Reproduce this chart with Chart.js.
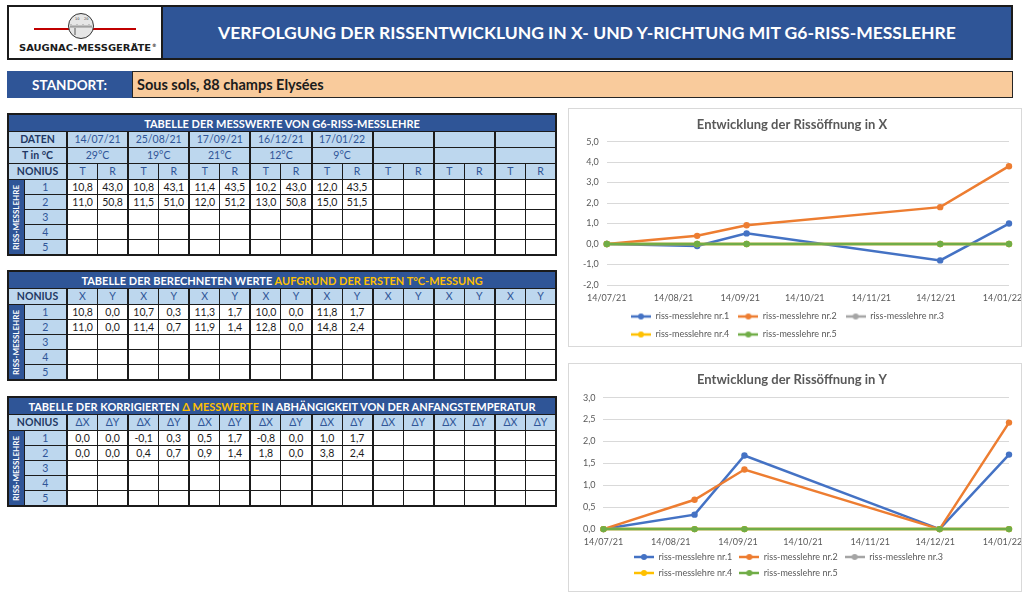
<!DOCTYPE html>
<html lang="de">
<head>
<meta charset="utf-8">
<title>Verfolgung der Rissentwicklung</title>
<script src="https://cdn.jsdelivr.net/npm/chart.js@4.4.1/dist/chart.umd.min.js"></script>
<style>
  body { margin: 0; background: #fff; font-family: Lato, 'Open Sans', sans-serif; }
  #page { position: relative; width: 1024px; height: 593px; overflow: hidden; }
  .box { position: absolute; box-sizing: border-box; }
  #logo { left: 7px; top: 5px; width: 156px; height: 55px; border: 2px solid #1b1b1b; background: #fff; }
  #head { left: 161px; top: 5px; width: 852px; height: 55px; border: 2px solid #1b1b1b; background: #2F5597;
          color: #fff; font-weight: bold; font-size: 17.5px; display: flex; align-items: center; justify-content: center; }
  #standLbl { left: 7px; top: 71px; width: 125px; height: 27px; background: #2F5597; color: #fff;
              font-weight: bold; font-size: 13.5px; display: flex; align-items: center; justify-content: center; }
  #standVal { left: 132px; top: 71px; width: 881px; height: 27px; background: #F9CB9C; border: 1.5px solid #262626;
              color: #1b1b1b; font-weight: bold; font-size: 14.5px; display: flex; align-items: center; padding-left: 4px; }
  table.grid { position: absolute; left: 7px; width: 550px; border-collapse: collapse; table-layout: fixed;
               border: 2px solid #1b1b1b; font-size: 10.5px; }
  table.grid td { border: 1px solid #1b1b1b; padding: 0; text-align: center; height: 14px; line-height: 13px;
                  overflow: hidden; white-space: nowrap; color: #1b1b1b; }
  table.grid td.g { border-left: 2px solid #1b1b1b; }
  table.grid tr.ttl td { background: #2F5597; color: #fff; font-weight: bold; font-size: 11px; height: 16px; }
  table.grid tr.hd td { background: #BDD7EE; color: #2F5597; height: 15px; }
  table.grid td.lbl { font-weight: bold; color: #1F3864 !important; }
  table.grid td.num { background: #BDD7EE; color: #2F5597; }
  table.grid td.vert { background: #2F5597; }
  td.vert div { writing-mode: vertical-rl; transform: rotate(180deg); color: #fff; font-weight: bold; font-size: 8px;
                margin: 0 auto; line-height: 14px; }
  .gold { color: #FFC000; }
  .chartBox { position: absolute; left: 568px; width: 454px; box-sizing: border-box; border: 1px solid #d9d9d9; background: #fff; }
</style>
</head>
<body>
<div id="page">
  <div id="logo" class="box">
    <svg width="152" height="51" viewBox="0 0 152 51">
      <line x1="25" y1="22" x2="127" y2="22" stroke="#c00000" stroke-width="2"/>
      <circle cx="72" cy="19" r="12.5" fill="#e6e6e6" stroke="#333" stroke-width="1"/>
      <line x1="61" y1="20" x2="83" y2="20" stroke="#555" stroke-width="0.6"/>
      <path d="M62 20v-3M64 20v-2M66 20v-2M68 20v-3M70 20v-2M72 20v-2M74 20v-3M76 20v-2M78 20v-2M80 20v-3M82 20v-2" stroke="#555" stroke-width="0.5"/>
      <text x="66" y="13" font-size="3.5" fill="#333" font-family="DejaVu Sans">10</text>
      <text x="75" y="13" font-size="3.5" fill="#333" font-family="DejaVu Sans">20</text>
      <line x1="66" y1="21" x2="66" y2="28" stroke="#333" stroke-width="0.8"/>
      <text x="10" y="44" font-size="8" font-weight="bold" fill="#1b1b1b"
            font-family="DejaVu Sans" textLength="132" lengthAdjust="spacingAndGlyphs">SAUGNAC-MESSGERÄTE</text>
      <text x="143" y="40" font-size="4.5" font-weight="bold" fill="#1b1b1b" font-family="DejaVu Sans">®</text>
    </svg>
  </div>
  <div id="head" class="box">VERFOLGUNG DER RISSENTWICKLUNG IN X- UND Y-RICHTUNG MIT G6-RISS-MESSLEHRE</div>
  <div id="standLbl" class="box">STANDORT:</div>
  <div id="standVal" class="box">Sous sols, 88 champs Elysées</div>

  <table class="grid" id="tab1" style="top:113px"></table>
  <table class="grid" id="tab2" style="top:270px"></table>
  <table class="grid" id="tab3" style="top:396px"></table>

  <div class="chartBox" style="top:108px;height:239px"><canvas id="chartX"></canvas></div>
  <div class="chartBox" style="top:363px;height:229px"><canvas id="chartY"></canvas></div>
</div>

<script>
const seriesNames = ['riss-messlehre nr.1', 'riss-messlehre nr.2', 'riss-messlehre nr.3', 'riss-messlehre nr.4', 'riss-messlehre nr.5'];
const seriesColors = ['#4472C4', '#ED7D31', '#A5A5A5', '#FFC000', '#70AD47'];
const measureDates = ['14/07/21', '25/08/21', '17/09/21', '16/12/21', '17/01/22'];
const axisDates = ['14/07/21', '14/08/21', '14/09/21', '14/10/21', '14/11/21', '14/12/21', '14/01/22'];
const temps = ['29°C', '19°C', '21°C', '12°C', '9°C'];

// raw readings of the gauges (T / R scale)
const rawT1 = [10.8, 10.8, 11.4, 10.2, 12.0];
const rawR1 = [43.0, 43.1, 43.5, 43.0, 43.5];
const rawT2 = [11.0, 11.5, 12.0, 13.0, 15.0];
const rawR2 = [50.8, 51.0, 51.2, 50.8, 51.5];

// computed X / Y
const calcX1 = [10.8, 10.7, 11.3, 10.0, 11.8];
const calcY1 = [0.0, 0.3, 1.7, 0.0, 1.7];
const calcX2 = [11.0, 11.4, 11.9, 12.8, 14.8];
const calcY2 = [0.0, 0.7, 1.4, 0.0, 2.4];

// corrected deltas, plotted in the charts
const openX1 = [0.0, -0.1, 0.52, -0.8, 1.0];
const openX2 = [0.0, 0.4, 0.92, 1.8, 3.8];
const openY1 = [0.0, 0.33, 1.68, 0.0, 1.7];
const openY2 = [0.0, 0.67, 1.36, 0.0, 2.43];
const openEmpty = [0, 0, 0, 0, 0]; // gauges 3-5 have no readings, Excel draws them at 0

const FONT = 'Lato, "Open Sans", sans-serif';
const GREY = '#595959';

function fmt(v) {
  return v.toFixed(1).replace('.', ',');
}

function dayNum(s) {
  const [d, m, y] = s.split('/').map(Number);
  return Date.UTC(2000 + y, m - 1, d) / 86400000;
}

// ---------- tables ----------
function colgroup() {
  let s = '<colgroup><col style="width:16px"><col style="width:43px">';
  for (let i = 0; i < 16; i++) s += '<col>';
  return s + '</colgroup>';
}

function pairRow(first, fill) {
  let s = '<tr class="hd"><td colspan="2" class="lbl">' + first + '</td>';
  for (let i = 0; i < 8; i++) s += fill(i);
  return s + '</tr>';
}

function dataRows(rows) {
  let s = '';
  for (let r = 0; r < 5; r++) {
    s += '<tr>';
    if (r === 0) s += '<td rowspan="5" class="vert"><div>RISS-MESSLEHRE</div></td>';
    s += '<td class="num">' + (r + 1) + '</td>';
    for (let i = 0; i < 8; i++) {
      const a = rows[r] && i < 5 ? fmt(rows[r][0][i]) : '';
      const b = rows[r] && i < 5 ? fmt(rows[r][1][i]) : '';
      s += '<td class="g">' + a + '</td><td>' + b + '</td>';
    }
    s += '</tr>';
  }
  return s;
}

function headPair(a, b) {
  return (i) => '<td class="g">' + a + '</td><td>' + b + '</td>';
}

let t1 = colgroup();
t1 += '<tr class="ttl"><td colspan="18">TABELLE DER MESSWERTE VON G6-RISS-MESSLEHRE</td></tr>';
t1 += pairRow('DATEN', (i) => '<td colspan="2" class="g">' + (measureDates[i] || '') + '</td>');
t1 += pairRow('T in °C', (i) => '<td colspan="2" class="g">' + (temps[i] || '') + '</td>');
t1 += pairRow('NONIUS', headPair('T', 'R'));
t1 += dataRows([[rawT1, rawR1], [rawT2, rawR2]]);
document.getElementById('tab1').innerHTML = t1;

let t2 = colgroup();
t2 += '<tr class="ttl"><td colspan="18">TABELLE DER BERECHNETEN WERTE <span class="gold">AUFGRUND DER ERSTEN T°C-MESSUNG</span></td></tr>';
t2 += pairRow('NONIUS', headPair('X', 'Y'));
t2 += dataRows([[calcX1, calcY1], [calcX2, calcY2]]);
document.getElementById('tab2').innerHTML = t2;

let t3 = colgroup();
t3 += '<tr class="ttl"><td colspan="18">TABELLE DER KORRIGIERTEN <span class="gold">Δ MESSWERTE</span> IN ABHÄNGIGKEIT VON DER ANFANGSTEMPERATUR</td></tr>';
t3 += pairRow('NONIUS', headPair('ΔX', 'ΔY'));
t3 += dataRows([[openX1, openY1], [openX2, openY2]]);
document.getElementById('tab3').innerHTML = t3;

// ---------- charts ----------
function legendIcon(color) {
  const c = document.createElement('canvas');
  c.width = 20;
  c.height = 8;
  const g = c.getContext('2d');
  g.strokeStyle = color;
  g.lineWidth = 2.5;
  g.beginPath();
  g.moveTo(0, 4);
  g.lineTo(20, 4);
  g.stroke();
  g.fillStyle = color;
  g.beginPath();
  g.arc(10, 4, 3, 0, Math.PI * 2);
  g.fill();
  return c;
}
const legendIcons = seriesColors.map(legendIcon);

// Excel puts 3 entries in the first legend row, left aligned with the second
const legendWrap = {
  id: 'legendWrap',
  afterInit(chart) {
    const lg = chart.legend;
    const fit = lg.fit;
    lg.fit = function () {
      this.maxWidth = Math.min(this.maxWidth, 360);
      fit.call(this);
      this.height -= chart.options.plugins.legendWrap.trim || 0;
    };
  },
  afterLayout(chart, args, opts) {
    const lg = chart.legend;
    const p = lg.options.labels.padding;
    const row = lg.lineWidths[0];
    const left = (lg.left + lg.right - row) / 2 - p;
    // narrow the box so drawing wraps the same way fit() did
    lg.left = left;
    lg.right = left + row + 2 * p + 1;
    lg.top += opts.down || 0;
    lg.bottom += opts.down || 0;
  }
};

const measureDays = measureDates.map(dayNum);
const axisDays = axisDates.map(dayNum);

function makeChart(id, title, series, yMin, yMax, yStep, pad) {
  const datasets = series.map((vals, i) => ({
    label: seriesNames[i],
    data: vals.map((v, k) => ({ x: measureDays[k], y: v })),
    borderColor: seriesColors[i],
    backgroundColor: seriesColors[i],
    borderWidth: 2.5,
    pointRadius: 3.2,
    pointBorderWidth: 0,
    pointHoverRadius: 3.2,
    clip: false,
    order: series.length - i
  }));

  return new Chart(document.getElementById(id), {
    type: 'line',
    data: { datasets: datasets },
    plugins: [legendWrap],
    options: {
      responsive: true,
      maintainAspectRatio: false,
      animation: false,
      layout: { padding: pad.layout },
      plugins: {
        legendWrap: { down: pad.legendDown, trim: pad.legendTrim },
        title: {
          display: true,
          text: title,
          color: GREY,
          font: { family: FONT, size: 13, weight: 'bold' },
          padding: pad.title
        },
        legend: {
          position: 'bottom',
          align: 'start',
          labels: {
            usePointStyle: true,
            pointStyleWidth: 20,
            color: GREY,
            font: { family: FONT, size: 9 },
            padding: pad.legend,
            sort: (a, b) => a.datasetIndex - b.datasetIndex,
            generateLabels(chart) {
              const items = Chart.defaults.plugins.legend.labels.generateLabels(chart);
              items.forEach((it) => { it.pointStyle = legendIcons[it.datasetIndex]; });
              return items;
            }
          }
        },
        tooltip: { enabled: false }
      },
      scales: {
        x: {
          type: 'linear',
          min: measureDays[0],
          max: measureDays[measureDays.length - 1],
          afterBuildTicks(scale) {
            scale.ticks = axisDays.map((v) => ({ value: v }));
          },
          afterFit(scale) {
            // let the last date label run off the edge like in Excel
            scale.paddingRight = 0;
            scale.height -= scale.options.ticks.padding;
          },
          ticks: {
            autoSkip: false,
            maxRotation: 0,
            color: GREY,
            font: { family: FONT, size: 9 },
            padding: pad.xTick,
            callback: (v) => axisDates[axisDays.indexOf(v)]
          },
          grid: { display: false, drawTicks: false },
          border: { display: false }
        },
        y: {
          min: yMin,
          max: yMax,
          ticks: {
            stepSize: yStep,
            color: GREY,
            font: { family: FONT, size: 9 },
            padding: 8,
            callback: (v) => fmt(v)
          },
          grid: { color: '#d9d9d9', drawTicks: false },
          border: { display: false }
        }
      }
    }
  });
}

makeChart('chartX', 'Entwicklung der Rissöffnung in X',
  [openX1, openX2, openEmpty, openEmpty, openEmpty], -2, 5, 1,
  { layout: { left: 6, right: 12, top: 0, bottom: 0 }, title: { top: 8, bottom: 9 },
    legend: 9, legendTrim: 3, legendDown: 0, xTick: 7.2 });

makeChart('chartY', 'Entwicklung der Rissöffnung in Y',
  [openY1, openY2, openEmpty, openEmpty, openEmpty], 0, 3, 0.5,
  { layout: { left: 6, right: 12, top: 0, bottom: 1.5 }, title: { top: 8, bottom: 10 },
    legend: 7, legendTrim: 0, legendDown: -2, xTick: 7.6 });
</script>
</body>
</html>
